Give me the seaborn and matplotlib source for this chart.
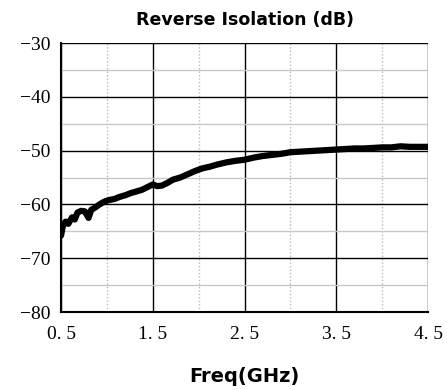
import matplotlib
matplotlib.use("Agg")
import matplotlib.pyplot as plt
import seaborn as sns
import pandas as pd
from matplotlib.ticker import MultipleLocator, FixedLocator

# values
freq_ghz = [0.50, 0.52, 0.55, 0.58, 0.62, 0.65, 0.68, 0.72, 0.76, 0.80, 0.83,
            0.87, 0.92, 0.97, 1.02, 1.08, 1.14, 1.20, 1.26, 1.32, 1.38, 1.44,
            1.50, 1.55, 1.60, 1.66, 1.72, 1.80, 1.88, 1.96, 2.04, 2.12, 2.20,
            2.30, 2.40, 2.50, 2.60, 2.70, 2.80, 2.90, 3.00, 3.10, 3.20, 3.30,
            3.40, 3.50, 3.60, 3.70, 3.80, 3.90, 4.00, 4.10, 4.20, 4.30, 4.40,
            4.50]
isolation_db = [-65.8, -64.0, -63.2, -63.6, -62.4, -62.8, -61.5, -61.2, -61.3, -62.5, -61.0,
                -60.6, -60.0, -59.5, -59.2, -59.0, -58.6, -58.3, -57.9, -57.6, -57.3, -56.8,
                -56.3, -56.6, -56.5, -56.0, -55.4, -55.0, -54.4, -53.8, -53.3, -53.0, -52.6,
                -52.2, -51.9, -51.7, -51.3, -51.0, -50.8, -50.6, -50.3, -50.2, -50.1, -50.0,
                -49.9, -49.8, -49.7, -49.6, -49.6, -49.5, -49.4, -49.4, -49.2, -49.3, -49.3,
                -49.3]
x_ticks = [0.5, 1.5, 2.5, 3.5, 4.5]
x_ticklabels = ["0. 5", "1. 5", "2. 5", "3. 5", "4. 5"]
y_ticks = [-80, -70, -60, -50, -40, -30]
y_ticklabels = ["\u221280", "\u221270", "\u221260", "\u221250", "\u221240", "\u221230"]

df = pd.DataFrame({"freq": freq_ghz, "iso": isolation_db})

sns.set_style("white")
plt.rcParams["font.family"] = ["DejaVu Sans"]
plt.rcParams["text.color"] = "black"
plt.rcParams["axes.labelcolor"] = "black"
plt.rcParams["xtick.color"] = "black"
plt.rcParams["ytick.color"] = "black"

fig = plt.figure(figsize=(4.47, 3.90), dpi=100)
ax = fig.add_axes([0.1365, 0.2, 0.821, 0.6897])

sns.lineplot(data=df, x="freq", y="iso", ax=ax, color="black", linewidth=4.5,
             solid_capstyle="round", solid_joinstyle="round")

ax.set_xlim(0.5, 4.5)
ax.set_ylim(-80, -30)
ax.xaxis.set_major_locator(FixedLocator(x_ticks))
ax.xaxis.set_minor_locator(FixedLocator([1.0, 2.0, 3.0, 4.0]))
ax.yaxis.set_major_locator(FixedLocator(y_ticks))
ax.yaxis.set_minor_locator(MultipleLocator(5))

ax.grid(which="major", axis="both", color="black", linewidth=1.0, linestyle="-")
ax.grid(which="minor", axis="y", color="#c8c8c8", linewidth=1.0, linestyle="-")
ax.grid(which="minor", axis="x", color="#bbbbbb", linewidth=1.0, linestyle=(0, (1, 1.5)))
ax.set_axisbelow(True)

ax.set_xticklabels(x_ticklabels, fontfamily="Liberation Serif", fontsize=14)
ax.set_yticklabels(y_ticklabels, fontfamily="Liberation Serif", fontsize=14)
ax.tick_params(which="both", direction="out", length=4, width=1, color="black",
               labelcolor="black")
ax.tick_params(axis="x", pad=6)

for side in ["left", "bottom"]:
    ax.spines[side].set_color("black")
    ax.spines[side].set_linewidth(1.5)
for side in ["top", "right"]:
    ax.spines[side].set_visible(False)

ax.set_title("Reverse Isolation (dB)", fontsize=12.5, fontweight="bold", pad=13,
             color="black")
ax.set_xlabel("Freq(GHz)", fontsize=14, fontweight="bold", labelpad=17, color="black")
ax.set_ylabel("")

fig.savefig("out.png", dpi=100)
